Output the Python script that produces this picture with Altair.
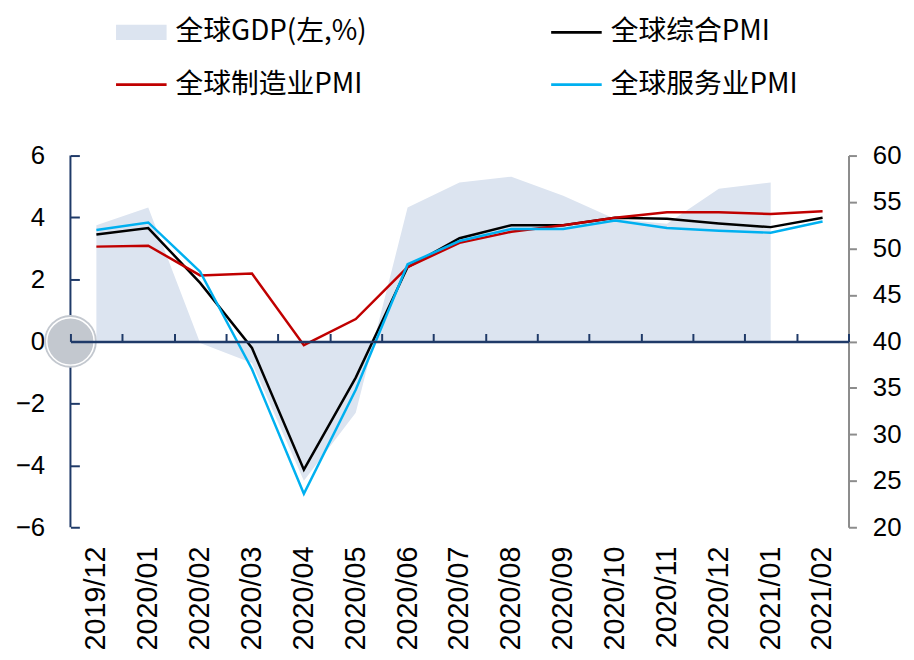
import altair as alt
import pandas as pd

months = ['2019/12', '2020/01', '2020/02', '2020/03', '2020/04', '2020/05', '2020/06',
          '2020/07', '2020/08', '2020/09', '2020/10', '2020/11', '2020/12', '2021/01', '2021/02']
gdp = [3.75, 4.32, -0.05, -0.7, -4.5, -2.3, 4.32, 5.13, 5.32, 4.7, 3.95, 3.8, 4.93, 5.13]
comp = [51.5, 52.2, 46.3, 39.3, 26.2, 36.1, 48.0, 51.1, 52.5, 52.5, 53.3, 53.2, 52.7, 52.3, 53.3]
mfg = [50.2, 50.3, 47.1, 47.3, 39.6, 42.4, 48.0, 50.6, 51.8, 52.5, 53.3, 53.9, 53.9, 53.7, 54.0]
svc = [52.0, 52.8, 47.5, 37.0, 23.6, 34.8, 48.3, 50.8, 52.1, 52.1, 53.0, 52.2, 51.9, 51.7, 52.9]

# legend order (column-major): GDP, 制造业 | 综合, 服务业
series_names = ['全球GDP(左,%)', '全球制造业PMI', '全球综合PMI', '全球服务业PMI']
series_colors = ['#DCE4F0', '#C00000', '#000000', '#00B0F0']
series_shapes = ['M-1,-0.3H1V0.3H-1Z', 'M-1,-0.055H1V0.055H-1Z',
                 'M-1,-0.055H1V0.055H-1Z', 'M-1,-0.055H1V0.055H-1Z']
left_ticks = [-6, -4, -2, 0, 2, 4, 6]
right_ticks = [20, 25, 30, 35, 40, 45, 50, 55, 60]

W, H = 785, 375
NAVY = '#1F3A68'
GRAY = '#8C8C8C'

gdp_df = pd.DataFrame({'month': months[:len(gdp)], 'value': gdp, 'series': '全球GDP(左,%)'})
pmi_df = pd.concat([
    pd.DataFrame({'month': months, 'value': comp, 'series': '全球综合PMI'}),
    pd.DataFrame({'month': months, 'value': mfg, 'series': '全球制造业PMI'}),
    pd.DataFrame({'month': months, 'value': svc, 'series': '全球服务业PMI'}),
], ignore_index=True)
legend_df = pd.DataFrame({'series': series_names})
dummy = pd.DataFrame({'d': [0]})

legend = alt.Legend(
    title=None, orient='none', legendX=46, legendY=-150, columns=2,
    columnPadding=186, rowPadding=13, padding=0,
    labelFont='Noto Sans CJK SC', labelFontSize=28, labelColor='#000000',
    labelOffset=9, labelLimit=400, symbolSize=2601, symbolStrokeWidth=0, symbolOpacity=1,
)
color_scale = alt.Scale(domain=series_names, range=series_colors)
shape_scale = alt.Scale(domain=series_names, range=series_shapes)

xscale = alt.Scale(type='band', domain=months, paddingInner=0, paddingOuter=0)

bottom_axis = alt.Axis(orient='bottom', labelAngle=-90, labelFont='Liberation Sans', labelFontSize=29,
                       labelPadding=19, ticks=False, tickSize=0, domain=False, title=None,
                       labelColor='#000000', grid=False)
zero_axis = alt.Axis(orient='top', offset=-H / 2, labels=False, domain=True, domainColor=NAVY,
                     domainWidth=2.5, ticks=True, tickColor=NAVY, tickWidth=2, tickSize=8,
                     tickBand='extent', title=None, zindex=1, grid=False)

left_scale = alt.Scale(domain=[-6, 6], nice=False, zero=False)
right_scale = alt.Scale(domain=[20, 60], nice=False, zero=False)

left_axis = alt.Axis(orient='left', values=left_ticks, offset=-9, domain=False, ticks=True, tickSize=9,
                     tickColor=NAVY, tickWidth=2, labelFontSize=26, labelFont='Liberation Sans',
                     labelPadding=26, grid=False, title=None, labelColor='#000000')
right_axis = alt.Axis(orient='right', values=right_ticks, domain=True, domainColor=GRAY, domainWidth=2,
                      tickColor=GRAY, tickWidth=2, tickSize=8, labelPadding=16, labelFontSize=26,
                      labelFont='Liberation Sans', grid=False, title=None, labelColor='#000000')

area = alt.Chart(gdp_df).mark_area(opacity=1).encode(
    x=alt.X('month:O', sort=months, scale=xscale, bandPosition=0.5, axis=bottom_axis),
    y=alt.Y('value:Q', scale=left_scale, axis=left_axis),
    y2=alt.datum(0),
    color=alt.Color('series:N', scale=color_scale, legend=legend),
)

left_domain = alt.Chart(dummy).mark_rule(color=NAVY, strokeWidth=2).encode(
    x=alt.value(0),
    y=alt.datum(-6),
    y2=alt.datum(6),
)

logo_disk = alt.Chart(dummy).mark_point(filled=True, color='#C3C8CF', opacity=1, size=2830).encode(
    x=alt.value(0), y=alt.datum(0)
)
logo_ring = alt.Chart(dummy).mark_point(filled=False, color='#FFFFFF', strokeWidth=1.5, opacity=1, size=2290).encode(
    x=alt.value(0), y=alt.datum(0)
)

legend_pts = alt.Chart(legend_df).mark_point(filled=True, opacity=1, strokeWidth=0).encode(
    x=alt.value(0),
    y=alt.value(0),
    size=alt.value(0),
    color=alt.Color('series:N', scale=color_scale, legend=legend),
    shape=alt.Shape('series:N', scale=shape_scale, legend=legend),
)

left_group = alt.layer(area, legend_pts, left_domain, logo_disk, logo_ring)

lines = alt.Chart(pmi_df).mark_line(strokeWidth=2.5).encode(
    x=alt.X('month:O', sort=months, scale=xscale, bandPosition=0.5, axis=zero_axis),
    y=alt.Y('value:Q', scale=right_scale, axis=right_axis),
    color=alt.Color('series:N', scale=color_scale, legend=legend),
)

chart = alt.layer(left_group, lines).resolve_scale(y='independent').resolve_axis(x='independent').properties(
    width=W, height=H,
    autosize=alt.AutoSizeParams(type='none'),
    padding={'left': 63, 'top': 146, 'right': 58, 'bottom': 125},
    background='#FFFFFF',
).configure_view(strokeWidth=0)

chart.save('out.html', embed_options={'renderer': 'svg', 'actions': False})
